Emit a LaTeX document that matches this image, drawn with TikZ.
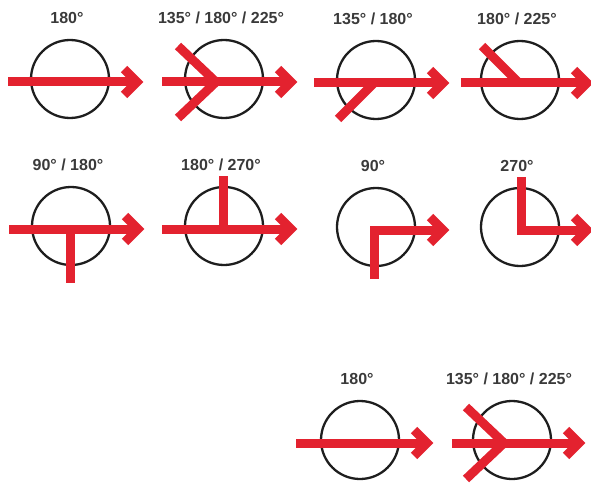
\documentclass[tikz,border=0pt]{standalone}
\usepackage{fontspec}
\setmainfont{Liberation Sans}

\definecolor{signred}{HTML}{E3222F}
\definecolor{ringgray}{HTML}{1E1E1E}
\definecolor{labelgray}{HTML}{3A3A3A}

\tikzset{
  ring/.style={draw=ringgray, line width=2.3pt},
  redbar/.style={draw=signred, line width=9pt, line cap=butt, line join=miter},
  tag/.style={font=\bfseries\fontsize{16}{18}\selectfont, text=labelgray},
  pics/dial/.style={code={
    \draw[ring] (0,0) circle[radius=39pt];
    \node[tag] (-text) at (-3,-61) {#1};
  }},
  pics/flow/.style={code={
    \draw[redbar] (#1,3) -- (67,3);
    \draw[redbar] (54,-10) -- (67,3) -- (54,16);
  }},
}

\begin{document}
\begin{tikzpicture}[x=1pt, y=-1pt]
  \useasboundingbox (0,0) rectangle (591,484);

  % row 1
  \pic (d1) at (70,79) {dial={180°}};
  \pic at (70,79) {flow=-62};

  \pic (d2) at (224,79) {dial={135° / 180° / 225°}};
  \pic at (224,79) {flow=-62};
  \draw[redbar, shift={(224,79)}] (-46,-33) -- (-8,3) -- (-46,39);

  \pic (d3) at (376,80) {dial={135° / 180°}};
  \pic at (376,80) {flow=-62};
  \draw[redbar, shift={(376,80)}] (-2,3) -- (-38,39);

  \pic (d4) at (520,80) {dial={180° / 225°}};
  \pic at (520,80) {flow=-59};
  \draw[redbar, shift={(520,80)}] (-1,3) -- (-38,-34);

  % row 2
  \pic (d5) at (71,226) {dial={90° / 180°}};
  \pic at (71,226) {flow=-62};
  \draw[redbar, shift={(71,226)}] (-1,3) -- (-1,57);

  \pic (d6) at (224,226) {dial={180° / 270°}};
  \pic at (224,226) {flow=-62};
  \draw[redbar, shift={(224,226)}] (-1,3) -- (-1,-50);

  \pic (d7) at (376,227) {dial={90°}};
  \pic at (376,227) {flow=-2};
  \draw[redbar, shift={(376,227)}] (-2,52) -- (-2,3) -- (10,3);

  \pic (d8) at (520,227) {dial={270°}};
  \pic at (520,227) {flow=1};
  \draw[redbar, shift={(520,227)}] (1,-50) -- (1,3) -- (10,3);

  % row 3
  \pic (d9) at (360,440) {dial={180°}};
  \pic at (360,440) {flow=-64};

  \pic (d10) at (512,440) {dial={135° / 180° / 225°}};
  \pic at (512,440) {flow=-60};
  \draw[redbar, shift={(512,440)}] (-46,-33) -- (-8,3) -- (-46,39);
\end{tikzpicture}
\end{document}
